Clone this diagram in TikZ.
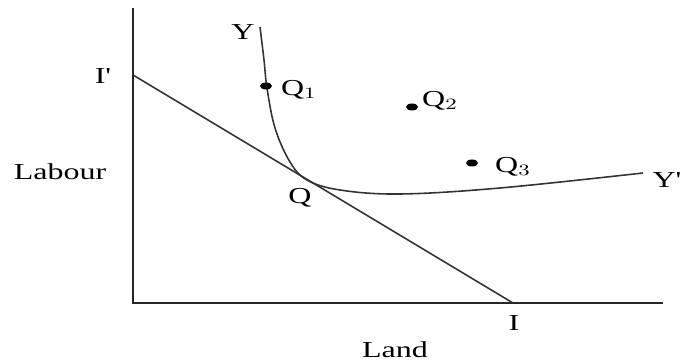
\documentclass[tikz,border=0pt]{standalone}
\usepackage{fontspec}
\setmainfont{Liberation Serif}
\usetikzlibrary{positioning,calc}
\tikzset{
    axis/.style={
        line width=1pt,
        black!85
    },
    curve/.style={
        line width=0.9pt,
        black!80
    },
    lbl/.style={
        font=\fontsize{13}{15}\selectfont,
        inner sep=1pt,
        xscale=1.4,
        transform shape
    }
}

\begin{document}
\begin{tikzpicture}[x=0.02cm, y=-0.02cm]
\useasboundingbox (0,0) rectangle (689,364);

% axes
\coordinate (O) at (133,303);
\coordinate (top) at (133,8);
\coordinate (right) at (663,303);
\draw[axis] (top) -- (O) -- (right);

% budget line
\coordinate (Ip) at (133,75);
\coordinate (I) at (513,303);
\draw[curve] (Ip) -- (I);

% isoquant
\draw[curve] plot[smooth, tension=0.6] coordinates {
    (260,27) (264,60) (267,88) (275,128) (290,162) (307,180)
    (340,190) (400,194) (500,188) (643,173)};

% points
\fill (266,86) ellipse [x radius=6, y radius=3.5];
\fill (412,107) ellipse [x radius=6, y radius=3.5];
\fill (472,163) ellipse [x radius=6, y radius=3.5];

% labels
\node[lbl] (yl) at (243,32) {Y};
\node[lbl] (ypl) at (667,180) {Y\textquotesingle};
\node[lbl] (ipl) at (103,76) {I\textquotesingle};
\node[lbl] (il) at (514,323) {I};
\node[lbl] (q) at (300,198) {Q};
\node[lbl] (q1) at (299,90) {Q$_1$};
\node[lbl] (q2) at (440,101) {Q$_2$};
\node[lbl] (q3) at (513,167) {Q$_3$};
\node[lbl] (lab) at (60,172) {Labour};
\node[lbl] (land) at (395,350) {Land};

\end{tikzpicture}
\end{document}
